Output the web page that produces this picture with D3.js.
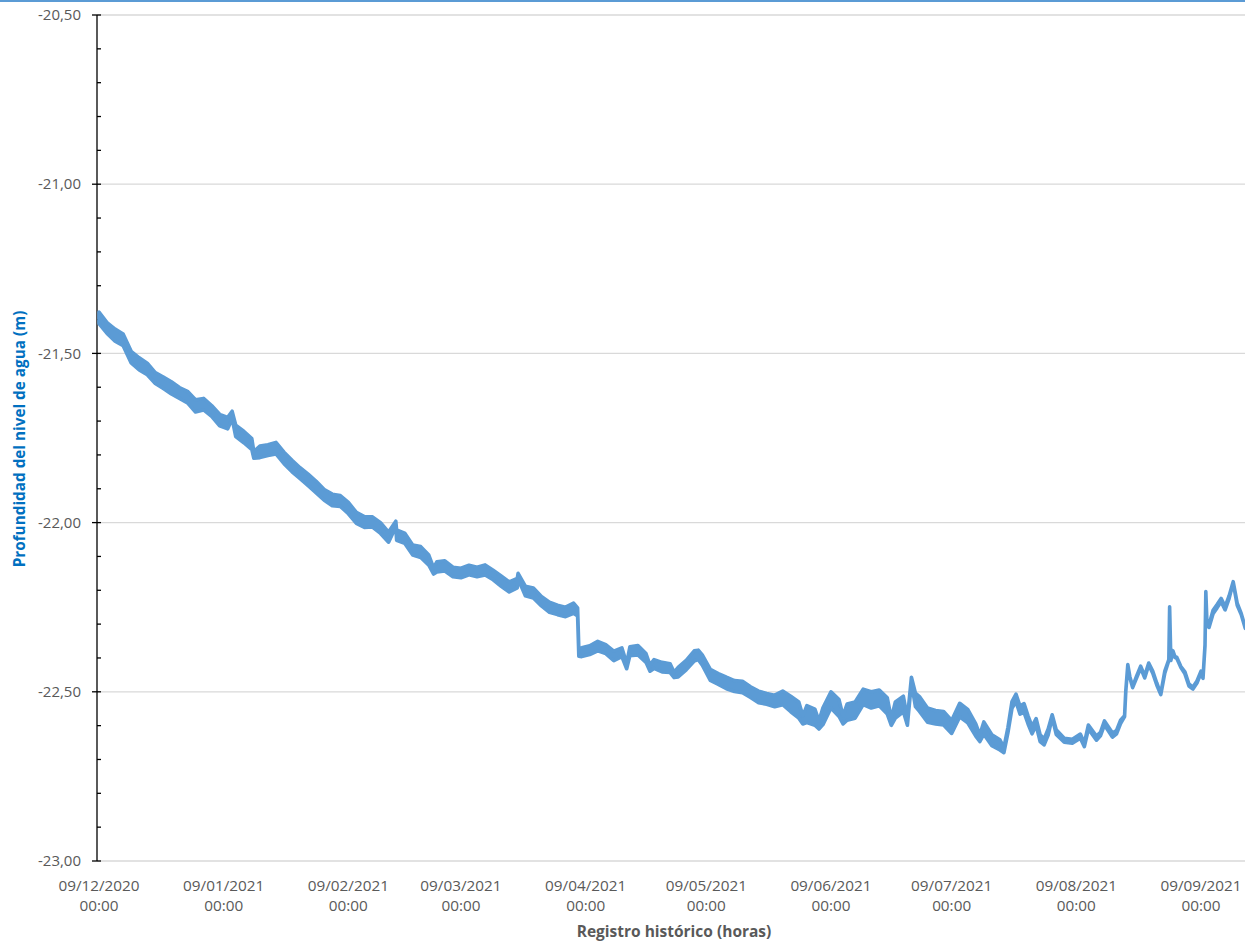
<!DOCTYPE html>
<html><head><meta charset="utf-8">
<script src="https://cdn.jsdelivr.net/npm/d3@7"></script>
<style>body{margin:0;background:#fff}svg{display:block}</style>
</head><body><svg id="c" width="1245" height="942"></svg>
<script>
// ---- data ----
const startDate = "2020-12-09";
const dayOffsets = [0,2,4,6,8,10,12,14,16,18,20,22,24,26,28,30,32,33.1,34,36,38,38.5,40,42,44,46,48,50,52,54,56,58,60,62,64,66,68,70,72,73.8,74,76,78,80,82,83.2,84,86,88,90,92,94,96,98,100,102,104,104.2,106,108,110,112,114,116,118,
  119,119.3,120,122,124,126,128,130,131.2,132,134,136,137,138,140,142,143,144,146,148,149,150,152,154,156,158,160,162,164,166,168,
  170,172,174,175,176,178,179,180,182,184,185,186,188,190,192,194,196,197,198,200,201,202,203,204,206,208,210,212,214,216,218,219,220,222,224,225,
  226,227,228,229,230,231,232,233,234,235,236,237,238,240,242,244,245,246,248,249,250,252,253,254,
  255,255.3,255.8,256.3,257,258,259,260,261,262,263,264,265,266,266.2,266.5,267,267.5,268,269,270,271,272,273,274,274.5,275,275.2,275.5,276,277,278,279,280,281,282,283,284,285];
const levels = [-21.395,-21.425,-21.446,-21.460,-21.511,-21.531,-21.546,-21.573,-21.587,-21.602,-21.617,-21.629,-21.655,-21.650,-21.670,-21.697,-21.706,-21.682,-21.729,-21.747,-21.768,-21.800,-21.791,-21.786,-21.780,-21.809,-21.833,-21.854,-21.874,-21.895,-21.918,-21.933,-21.936,-21.957,-21.986,-21.998,-21.998,-22.016,-22.043,-22.004,-22.037,-22.046,-22.081,-22.087,-22.111,-22.143,-22.131,-22.128,-22.146,-22.149,-22.140,-22.146,-22.140,-22.155,-22.173,-22.190,-22.179,-22.158,-22.202,-22.208,-22.232,-22.250,-22.258,-22.264,-22.253,
  -22.264,-22.383,-22.383,-22.377,-22.365,-22.374,-22.394,-22.383,-22.424,-22.380,-22.377,-22.400,-22.430,-22.418,-22.427,-22.430,-22.450,-22.442,-22.421,-22.394,-22.391,-22.406,-22.450,-22.462,-22.474,-22.483,-22.486,-22.501,-22.515,-22.521,-22.527,
  -22.518,-22.536,-22.554,-22.583,-22.566,-22.575,-22.598,-22.572,-22.524,-22.548,-22.583,-22.560,-22.554,-22.515,-22.524,-22.518,-22.542,-22.589,-22.554,-22.536,-22.589,-22.465,-22.524,-22.536,-22.569,-22.575,-22.578,-22.604,-22.554,-22.572,-22.613,-22.637,-22.607,-22.643,-22.657,-22.672,
  -22.613,-22.539,-22.518,-22.554,-22.548,-22.583,-22.613,-22.589,-22.637,-22.648,-22.619,-22.572,-22.619,-22.643,-22.646,-22.631,-22.657,-22.604,-22.637,-22.625,-22.592,-22.628,-22.619,-22.589,
  -22.572,-22.498,-22.421,-22.456,-22.486,-22.456,-22.427,-22.456,-22.418,-22.442,-22.477,-22.507,-22.442,-22.406,-22.250,-22.406,-22.380,-22.397,-22.400,-22.427,-22.444,-22.480,-22.489,-22.471,-22.442,-22.459,-22.362,-22.205,-22.303,-22.306,-22.264,-22.247,-22.229,-22.253,-22.220,-22.176,-22.241,-22.270,-22.311];
const dailyRange = [.034,.032,.036,.034,.034,.036,.034,.032,.034,.036,.032,.034,.036,.034,.032,.034,.034,.022,.034,.034,.032,.020,.034,.032,.034,.034,.034,.032,.034,.034,.032,.034,.032,.034,.032,.032,.030,.032,.030,.016,.030,.030,.030,.032,.030,.018,.030,.030,.028,.028,.028,.028,.030,.028,.030,.030,.028,.016,.028,.030,.028,.030,.028,.028,.030,
  .024,.024,.026,.026,.028,.026,.028,.026,.016,.026,.028,.026,.018,.026,.028,.026,.016,.028,.028,.030,.028,.030,.032,.032,.034,.032,.034,.032,.034,.032,.034,
  .040,.046,.048,.024,.050,.048,.024,.050,.048,.050,.024,.048,.048,.046,.048,.046,.048,.020,.048,.046,.020,.016,.040,.044,.042,.040,.040,.038,.040,.040,.036,.020,.036,.032,.030,.016,
  .016,.020,.022,.024,.026,.024,.022,.020,.020,.018,.018,.008,.014,.012,.012,.012,.010,.012,.012,.010,.012,.012,.010,.010,
  .003,.003,.003,.003,.003,.006,.006,.006,.006,.006,.006,.003,.006,.003,.002,.003,.003,.003,.003,.003,.006,.006,.006,.006,.006,.003,.003,.002,.003,.008,.010,.010,.010,.010,.008,.003,.006,.003,.003];
const yTickValues = [-23.0,-22.5,-22.0,-21.5,-21.0,-20.5];
const xTickDates = ["2020-12-09","2021-01-09","2021-02-09","2021-03-09","2021-04-09","2021-05-09","2021-06-09","2021-07-09","2021-08-09","2021-09-09"];
const yTitle = "Profundidad del nivel de agua (m)";
const xTitle = "Registro histórico (horas)";

// ---- drawing ----
const svg = d3.select("#c");
const W = 1245, H = 942;
const parse = d3.timeParse("%Y-%m-%d");
const t0 = parse(startDate);
const data = dayOffsets.map((d,i)=>({date:d3.timeMinute.offset(t0, Math.round(d*1440)), v:levels[i], r:dailyRange[i]}));

const x = d3.scaleTime().domain([t0, d3.timeMinute.offset(t0, Math.round(284.94*1440))]).range([99, 1245]);
const y = d3.scaleLinear().domain([-23, -20.5]).range([861, 15]);
const axisX = 97;
const font = "Open Sans, sans-serif";

// top thin blue border
svg.append("rect").attr("x",0).attr("y",0).attr("width",W).attr("height",2).attr("fill","#5b9bd5");

// gridlines
svg.append("g").selectAll("line").data(yTickValues).join("line")
  .attr("x1",axisX).attr("x2",W).attr("y1",d=>y(d)).attr("y2",d=>y(d))
  .attr("stroke","#d9d9d9").attr("stroke-width",1.3);

// y axis line and ticks
const ya = svg.append("g");
ya.append("line").attr("x1",axisX).attr("x2",axisX).attr("y1",y(-20.5)).attr("y2",y(-23)).attr("stroke","#000").attr("stroke-width",1.3);
ya.selectAll("line.maj").data(yTickValues).join("line").attr("class","maj")
  .attr("x1",axisX-5).attr("x2",axisX+4).attr("y1",d=>y(d)).attr("y2",d=>y(d)).attr("stroke","#000").attr("stroke-width",1.3);
const minor = d3.range(-23, -20.45, 0.1).filter(v=>Math.abs(Math.round(v*2)-v*2)>0.01);
ya.selectAll("line.min").data(minor).join("line").attr("class","min")
  .attr("x1",axisX).attr("x2",axisX+4).attr("y1",d=>y(d)).attr("y2",d=>y(d)).attr("stroke","#000").attr("stroke-width",1.3);
const fmt = v => d3.format(".2f")(v).replace(".",",").replace("−","-");
ya.selectAll("text").data(yTickValues).join("text")
  .attr("x",81).attr("y",d=>y(d)).attr("dy","0.35em").attr("text-anchor","end")
  .attr("font-family",font).attr("font-size",15).attr("fill","#595959")
  .text(fmt);

// x labels
const fd = d3.timeFormat("%d/%m/%Y"), fh = d3.timeFormat("%H:%M");
const xl = svg.append("g").selectAll("text").data(xTickDates.map(parse)).join("text")
  .attr("x",d=>x(d)).attr("text-anchor","middle")
  .attr("font-family",font).attr("font-size",15.3).attr("fill","#595959");
xl.append("tspan").attr("x",d=>x(d)).attr("y",891).text(fd);
xl.append("tspan").attr("x",d=>x(d)).attr("y",911).text(fh);

// titles
svg.append("text").attr("x",674).attr("y",937).attr("text-anchor","middle")
  .attr("font-family",font).attr("font-weight","bold").attr("font-size",15.5).attr("fill","#595959")
  .text(xTitle);
svg.append("text").attr("transform","translate(25,439) rotate(-90)").attr("text-anchor","middle")
  .attr("font-family",font).attr("font-weight","bold").attr("font-size",15.3).attr("fill","#0070c0")
  .text(yTitle);

// data series (daily band)
svg.append("clipPath").attr("id","clip").append("rect").attr("x",axisX).attr("y",0).attr("width",W-axisX).attr("height",H);
const area = d3.area().x(d=>x(d.date)).y0(d=>y(d.v - d.r/2)).y1(d=>y(d.v + d.r/2));
svg.append("path").datum(data).attr("clip-path","url(#clip)")
  .attr("d",area).attr("fill","#5b9bd5").attr("stroke","#5b9bd5").attr("stroke-width",3.6).attr("stroke-linejoin","round");
</script>
</body></html>
